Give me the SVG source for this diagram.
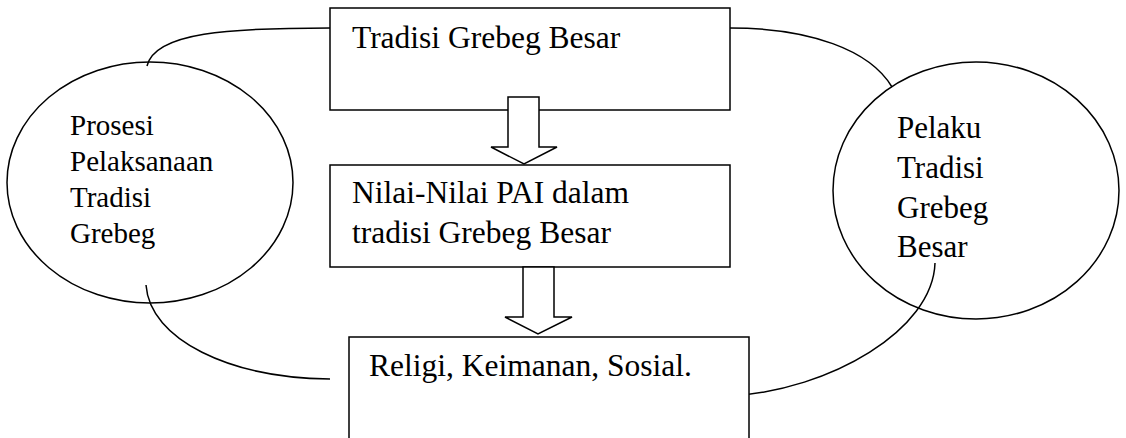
<svg xmlns="http://www.w3.org/2000/svg" width="1126" height="438" viewBox="0 0 1126 438">
<style>
.shape{fill:#fff;stroke:#000;stroke-width:1.5}
.conn{fill:none;stroke:#000;stroke-width:1.5}
.arrow{fill:#fff;stroke:#000;stroke-width:1.5;stroke-linejoin:miter}
text{font-family:"Liberation Serif","Times New Roman",serif;fill:#000}
.big{font-size:31.5px}
.mid{font-size:29px}
.rt{font-size:31px}
</style>
<rect width="1126" height="438" fill="#fff"/>
<g id="connectors">
<path class="conn" d="M330,28 C230,28 155,32 147,66"/>
<path class="conn" d="M730,28 C810,28 870,50 892,87"/>
<path class="conn" d="M146,285 C150,340 230,378 330,379"/>
<path class="conn" d="M935,263 C933,330 830,390 731,396"/>
</g>
<g id="node-tradisi">
<rect class="shape" x="330" y="8" width="400" height="102"/>
<text class="big" x="352" y="48">Tradisi Grebeg Besar</text>
</g>
<g id="node-nilai">
<rect class="shape" x="330" y="165" width="400" height="102"/>
<text class="big" x="352" y="203">Nilai-Nilai PAI dalam</text>
<text class="big" x="352" y="243">tradisi Grebeg Besar</text>
</g>
<g id="node-religi">
<rect class="shape" x="349" y="337" width="400" height="110"/>
<text class="big" x="369" y="376">Religi, Keimanan, Sosial.</text>
</g>
<g id="node-prosesi">
<ellipse class="conn" cx="150" cy="182.5" rx="143" ry="120.5"/>
<text class="mid" x="70" y="135">Prosesi</text>
<text class="mid" x="70" y="171">Pelaksanaan</text>
<text class="mid" x="70" y="207">Tradisi</text>
<text class="mid" x="70" y="243">Grebeg</text>
</g>
<g id="node-pelaku">
<ellipse class="conn" cx="976" cy="190.5" rx="143" ry="128.5"/>
<text class="rt" x="897" y="138">Pelaku</text>
<text class="rt" x="897" y="178">Tradisi</text>
<text class="rt" x="897" y="218">Grebeg</text>
<text class="rt" x="897" y="257">Besar</text>
</g>
<g id="arrows">
<polygon class="arrow" points="508,97 539,97 539,147 557,147 524,164 491,147 508,147"/>
<polygon class="arrow" points="523,267 554,267 554,317 572,317 538,334 505,317 523,317"/>
</g>
</svg>
